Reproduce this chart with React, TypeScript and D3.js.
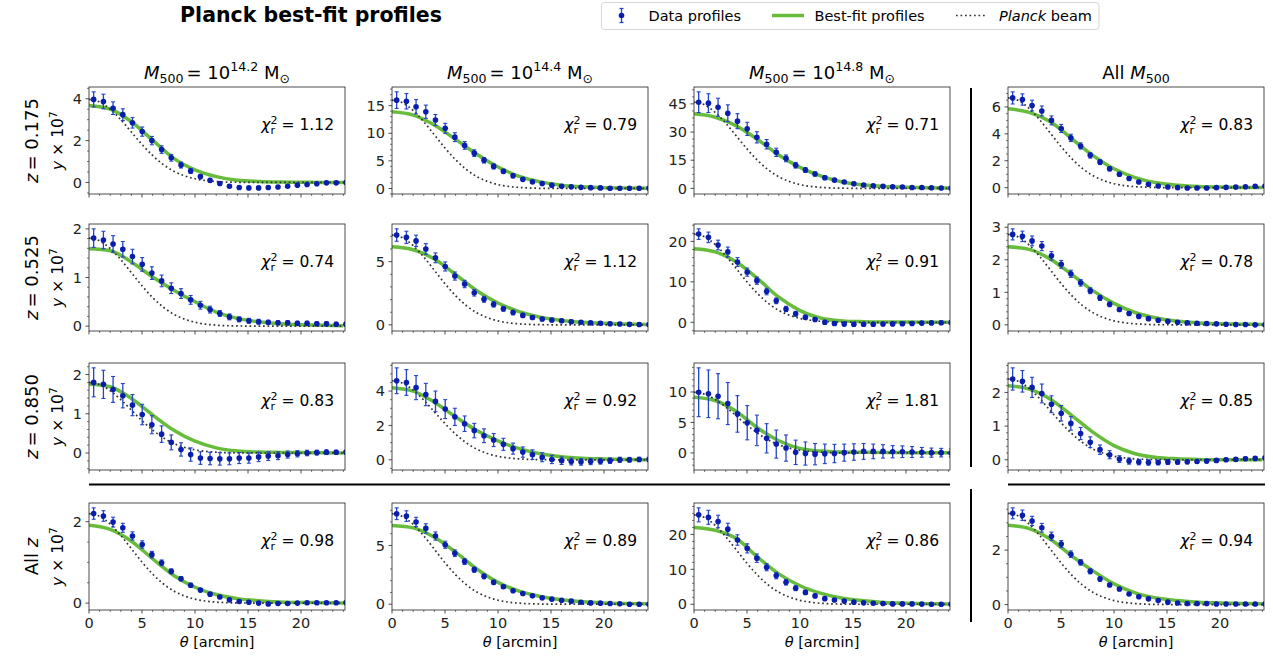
import { useEffect, useRef } from 'react';
import * as d3 from 'd3';

// angular bins of the measured profiles [arcmin]
const thetaData = [0.44, 1.36, 2.27, 3.19, 4.10, 5.02, 5.93, 6.85, 7.76, 8.68, 9.59, 10.51, 11.42, 12.34, 13.25, 14.17, 15.08, 16.00, 16.91, 17.83, 18.74, 19.66, 20.57, 21.49, 22.40, 23.32, 24.23];
// grid on which the best-fit model is tabulated
const thetaFit = [0, 2, 4, 6, 8, 10, 12, 14, 16, 18, 20, 22, 24];
// Planck beam, normalised to the central data value
const thetaBeam = [0, 1, 2, 3, 4, 5, 6, 7, 8, 9, 10, 11, 12, 13, 14, 15, 16, 17, 18, 19, 20, 21, 22, 23, 24];
const beamShape = [1.0, 0.969, 0.882, 0.755, 0.607, 0.458, 0.325, 0.216, 0.135, 0.08, 0.044, 0.023, 0.011, 0.005, 0.002, 0.001, 0, 0, 0, 0, 0, 0, 0, 0, 0];

const rowLabels = ['0.175', '0.525', '0.850', 'All'];
const colLabels = ['14.2', '14.4', '14.8', 'All'];

const chi2 = [
  ['1.12', '0.79', '0.71', '0.83'],
  ['0.74', '1.12', '0.91', '0.78'],
  ['0.83', '0.92', '1.81', '0.85'],
  ['0.98', '0.89', '0.86', '0.94'],
];

const yTicks = [
  [[0, 2, 4], [0, 5, 10, 15], [0, 15, 30, 45], [0, 2, 4, 6]],
  [[0, 1, 2], [0, 5], [0, 10, 20], [0, 1, 2, 3]],
  [[0, 1, 2], [0, 2, 4], [0, 5, 10], [0, 1, 2]],
  [[0, 2], [0, 5], [0, 10, 20], [0, 2]],
];
const xTicks = [0, 5, 10, 15, 20];

// z = 0.175
const y11 = [3.97, 3.87, 3.55, 3.24, 2.85, 2.43, 2.0, 1.57, 1.18, 0.83, 0.55, 0.28, 0.1, -0.05, -0.18, -0.24, -0.26, -0.26, -0.24, -0.22, -0.18, -0.13, -0.1, -0.06, -0.02, -0.02, 0.0];
const e11 = [0.36, 0.35, 0.3, 0.28, 0.25, 0.22, 0.2, 0.18, 0.16, 0.14, 0.12, 0.1, 0.09, 0.08, 0.07, 0.07, 0.06, 0.06, 0.06, 0.05, 0.05, 0.05, 0.05, 0.04, 0.04, 0.04, 0.04];
const f11 = [3.68, 3.51, 2.9, 2.02, 1.15, 0.6, 0.28, 0.11, 0.05, 0.02, 0.01, 0.0, 0.0];

const y12 = [16.0, 15.8, 14.8, 13.9, 12.4, 10.9, 9.3, 7.8, 6.4, 5.1, 4.0, 3.1, 2.3, 1.65, 1.2, 0.9, 0.6, 0.4, 0.3, 0.2, 0.15, 0.1, 0.05, 0.05, 0.05, 0.05, 0.05];
const e12 = [1.5, 1.4, 1.3, 1.2, 1.0, 0.9, 0.8, 0.7, 0.6, 0.5, 0.45, 0.4, 0.35, 0.3, 0.28, 0.26, 0.24, 0.22, 0.2, 0.2, 0.19, 0.18, 0.17, 0.16, 0.16, 0.15, 0.15];
const f12 = [13.9, 13.3, 11.5, 8.9, 6.2, 3.9, 2.2, 1.2, 0.6, 0.3, 0.15, 0.07, 0.03];

const y13 = [45.9, 45.4, 43.2, 40.0, 35.8, 31.7, 27.2, 23.5, 19.2, 16.0, 12.3, 9.8, 7.7, 5.7, 4.4, 3.4, 2.5, 1.8, 1.4, 1.1, 0.9, 0.7, 0.5, 0.5, 0.35, 0.2, 0.1];
const e13 = [5.5, 5.0, 4.8, 4.5, 4.0, 3.5, 3.0, 2.5, 2.2, 1.8, 1.5, 1.3, 1.1, 1.0, 0.9, 0.8, 0.75, 0.7, 0.65, 0.6, 0.6, 0.55, 0.55, 0.5, 0.5, 0.5, 0.5];
const f13 = [39.7, 37.9, 33.3, 26.0, 17.8, 11.2, 6.5, 3.4, 1.8, 1.0, 0.6, 0.3, 0.2];

const y14 = [6.67, 6.55, 6.1, 5.7, 5.0, 4.4, 3.7, 3.1, 2.4, 1.9, 1.4, 1.0, 0.68, 0.42, 0.25, 0.12, 0.05, 0.0, -0.02, -0.03, -0.02, 0.0, 0.02, 0.04, 0.07, 0.1, 0.1];
const e14 = [0.45, 0.42, 0.4, 0.37, 0.33, 0.3, 0.27, 0.23, 0.2, 0.18, 0.16, 0.14, 0.12, 0.11, 0.1, 0.09, 0.09, 0.08, 0.08, 0.08, 0.07, 0.07, 0.07, 0.07, 0.06, 0.06, 0.06];
const f14 = [5.87, 5.6, 4.9, 3.65, 2.4, 1.4, 0.75, 0.37, 0.18, 0.08, 0.04, 0.02, 0.01];

// z = 0.525
const y21 = [1.81, 1.77, 1.69, 1.58, 1.43, 1.27, 1.09, 0.93, 0.78, 0.67, 0.54, 0.43, 0.34, 0.26, 0.19, 0.14, 0.11, 0.09, 0.08, 0.07, 0.07, 0.06, 0.06, 0.05, 0.05, 0.04, 0.04];
const e21 = [0.19, 0.18, 0.17, 0.16, 0.15, 0.14, 0.13, 0.12, 0.11, 0.1, 0.09, 0.08, 0.07, 0.06, 0.06, 0.05, 0.05, 0.05, 0.04, 0.04, 0.04, 0.04, 0.04, 0.04, 0.04, 0.04, 0.04];
const f21 = [1.59, 1.55, 1.32, 1.01, 0.74, 0.5, 0.29, 0.16, 0.09, 0.05, 0.03, 0.02, 0.01];

const y22 = [7.1, 6.92, 6.64, 6.0, 5.3, 4.62, 3.86, 3.23, 2.54, 2.02, 1.62, 1.27, 0.98, 0.75, 0.58, 0.46, 0.38, 0.32, 0.25, 0.21, 0.16, 0.13, 0.09, 0.07, 0.04, 0.03, 0.02];
const e22 = [0.49, 0.48, 0.45, 0.42, 0.39, 0.36, 0.32, 0.29, 0.26, 0.23, 0.21, 0.19, 0.18, 0.16, 0.15, 0.14, 0.14, 0.13, 0.13, 0.12, 0.12, 0.12, 0.12, 0.12, 0.12, 0.12, 0.12];
const f22 = [6.17, 5.94, 5.2, 3.98, 2.7, 1.73, 1.04, 0.6, 0.35, 0.2, 0.12, 0.07, 0.03];

const y23 = [21.8, 21.0, 19.1, 17.4, 14.9, 12.4, 10.3, 7.6, 5.3, 3.3, 2.1, 1.25, 0.7, 0.0, -0.3, -0.45, -0.5, -0.5, -0.5, -0.45, -0.4, -0.35, -0.3, -0.2, -0.15, -0.1, -0.05];
const e23 = [1.3, 1.3, 1.2, 1.2, 1.1, 1.0, 0.9, 0.8, 0.7, 0.65, 0.6, 0.55, 0.5, 0.5, 0.45, 0.45, 0.45, 0.4, 0.4, 0.4, 0.4, 0.4, 0.4, 0.4, 0.4, 0.4, 0.4];
const f23 = [18.2, 17.4, 14.9, 10.8, 6.2, 2.9, 1.0, 0.35, 0.15, 0.08, 0.05, 0.03, 0.02];

const y24 = [2.78, 2.72, 2.58, 2.42, 2.12, 1.86, 1.57, 1.29, 1.05, 0.83, 0.63, 0.47, 0.35, 0.26, 0.19, 0.14, 0.11, 0.08, 0.06, 0.05, 0.04, 0.03, 0.02, 0.01, 0.01, 0.0, 0.0];
const e24 = [0.17, 0.16, 0.15, 0.14, 0.13, 0.12, 0.11, 0.1, 0.09, 0.08, 0.07, 0.06, 0.06, 0.05, 0.05, 0.05, 0.05, 0.04, 0.04, 0.04, 0.04, 0.04, 0.04, 0.04, 0.04, 0.04, 0.04];
const f24 = [2.4, 2.32, 2.02, 1.55, 1.05, 0.66, 0.38, 0.21, 0.11, 0.06, 0.03, 0.02, 0.01];

// z = 0.850
const y31 = [1.8, 1.75, 1.62, 1.46, 1.22, 0.98, 0.72, 0.48, 0.27, 0.09, -0.04, -0.13, -0.14, -0.15, -0.15, -0.13, -0.13, -0.1, -0.08, -0.07, -0.04, -0.02, 0.0, 0.01, 0.02, 0.02, 0.02];
const e31 = [0.37, 0.36, 0.33, 0.31, 0.27, 0.26, 0.23, 0.21, 0.19, 0.17, 0.17, 0.16, 0.16, 0.16, 0.15, 0.14, 0.13, 0.12, 0.11, 0.1, 0.09, 0.08, 0.07, 0.06, 0.06, 0.05, 0.05];
const f31 = [1.76, 1.69, 1.39, 0.97, 0.58, 0.3, 0.13, 0.05, 0.025, 0.015, 0.01, 0.005, 0.0];

const y32 = [4.6, 4.5, 4.2, 3.8, 3.4, 2.95, 2.5, 2.1, 1.7, 1.4, 1.15, 0.9, 0.65, 0.45, 0.3, 0.15, 0.02, -0.05, -0.1, -0.12, -0.1, -0.08, -0.05, 0.0, 0.0, 0.02, 0.02];
const e32 = [0.75, 0.75, 0.7, 0.65, 0.6, 0.55, 0.5, 0.45, 0.42, 0.4, 0.38, 0.35, 0.32, 0.3, 0.28, 0.26, 0.24, 0.22, 0.2, 0.19, 0.18, 0.17, 0.16, 0.15, 0.14, 0.13, 0.13];
const f32 = [4.2, 4.0, 3.35, 2.5, 1.7, 1.1, 0.65, 0.35, 0.18, 0.09, 0.05, 0.02, 0.01];

const y33 = [9.95, 9.7, 9.3, 8.1, 6.4, 4.95, 3.7, 2.4, 1.45, 0.8, 0.1, -0.1, -0.2, -0.15, -0.1, 0.05, 0.15, 0.25, 0.25, 0.25, 0.2, 0.2, 0.15, 0.1, 0.05, 0.05, 0.0];
const e33 = [4.0, 3.9, 3.7, 3.45, 3.0, 2.8, 2.5, 2.4, 2.3, 2.15, 2.0, 1.9, 1.75, 1.6, 1.5, 1.4, 1.35, 1.3, 1.2, 1.1, 1.0, 0.95, 0.9, 0.8, 0.75, 0.7, 0.65];
const f33 = [9.15, 8.6, 6.8, 4.1, 2.0, 0.75, 0.3, 0.15, 0.1, 0.07, 0.05, 0.03, 0.02];

const y34 = [2.4, 2.33, 2.15, 1.97, 1.65, 1.38, 1.08, 0.78, 0.52, 0.3, 0.15, 0.02, -0.04, -0.07, -0.08, -0.08, -0.07, -0.07, -0.06, -0.05, -0.04, -0.02, 0.0, 0.01, 0.03, 0.04, 0.05];
const e34 = [0.33, 0.32, 0.3, 0.28, 0.25, 0.23, 0.2, 0.18, 0.16, 0.14, 0.12, 0.1, 0.09, 0.08, 0.08, 0.07, 0.07, 0.06, 0.06, 0.06, 0.05, 0.05, 0.05, 0.05, 0.05, 0.05, 0.05];
const f34 = [2.2, 2.1, 1.8, 1.32, 0.82, 0.42, 0.18, 0.07, 0.03, 0.01, 0.0, 0.0, 0.0];

// all z
const y41 = [2.2, 2.14, 1.99, 1.85, 1.65, 1.44, 1.19, 0.99, 0.78, 0.6, 0.44, 0.32, 0.22, 0.15, 0.08, 0.04, 0.02, 0.0, -0.02, -0.01, -0.01, 0.0, 0.01, 0.01, 0.01, 0.01, 0.01];
const e41 = [0.14, 0.13, 0.12, 0.11, 0.1, 0.09, 0.08, 0.07, 0.06, 0.05, 0.05, 0.04, 0.04, 0.04, 0.03, 0.03, 0.03, 0.03, 0.03, 0.03, 0.03, 0.03, 0.03, 0.03, 0.03, 0.03, 0.03];
const f41 = [1.91, 1.81, 1.52, 1.09, 0.68, 0.39, 0.21, 0.11, 0.06, 0.03, 0.015, 0.01, 0.0];

const y42 = [7.7, 7.5, 7.0, 6.45, 5.8, 5.06, 4.34, 3.63, 2.94, 2.37, 1.86, 1.49, 1.14, 0.91, 0.71, 0.54, 0.43, 0.34, 0.26, 0.17, 0.11, 0.09, 0.06, 0.03, 0.0, 0.0, 0.0];
const e42 = [0.5, 0.45, 0.4, 0.4, 0.35, 0.3, 0.28, 0.25, 0.22, 0.2, 0.18, 0.15, 0.13, 0.12, 0.1, 0.1, 0.1, 0.09, 0.09, 0.09, 0.08, 0.08, 0.08, 0.08, 0.08, 0.08, 0.08];
const f42 = [6.7, 6.5, 5.7, 4.43, 3.0, 1.86, 1.11, 0.66, 0.37, 0.2, 0.11, 0.06, 0.03];

const y43 = [25.6, 24.9, 23.7, 21.5, 18.4, 16.0, 13.2, 10.6, 8.2, 6.3, 4.6, 3.4, 2.4, 1.6, 1.2, 0.9, 0.6, 0.4, 0.3, 0.2, 0.1, 0.1, 0.1, 0.05, 0.0, 0.0, 0.0];
const e43 = [2.0, 2.0, 1.8, 1.7, 1.5, 1.3, 1.2, 1.0, 0.9, 0.8, 0.7, 0.6, 0.5, 0.45, 0.4, 0.35, 0.3, 0.3, 0.3, 0.3, 0.25, 0.25, 0.25, 0.25, 0.25, 0.25, 0.25];
const f43 = [22.0, 21.2, 18.8, 13.5, 8.7, 5.3, 3.1, 1.7, 1.0, 0.5, 0.3, 0.15, 0.1];

const y44 = [3.35, 3.28, 3.07, 2.82, 2.51, 2.22, 1.85, 1.55, 1.22, 0.94, 0.72, 0.57, 0.39, 0.29, 0.21, 0.15, 0.09, 0.06, 0.04, 0.04, 0.04, 0.02, 0.02, 0.02, 0.02, 0.02, 0.02];
const e44 = [0.2, 0.19, 0.17, 0.16, 0.15, 0.13, 0.12, 0.1, 0.09, 0.08, 0.07, 0.06, 0.05, 0.05, 0.05, 0.04, 0.04, 0.04, 0.04, 0.04, 0.04, 0.04, 0.04, 0.04, 0.04, 0.04, 0.04];
const f44 = [2.91, 2.79, 2.4, 1.79, 1.24, 0.76, 0.43, 0.24, 0.15, 0.09, 0.06, 0.04, 0.03];

const panels = [
  [{ y: y11, e: e11, f: f11 }, { y: y12, e: e12, f: f12 }, { y: y13, e: e13, f: f13 }, { y: y14, e: e14, f: f14 }],
  [{ y: y21, e: e21, f: f21 }, { y: y22, e: e22, f: f22 }, { y: y23, e: e23, f: f23 }, { y: y24, e: e24, f: f24 }],
  [{ y: y31, e: e31, f: f31 }, { y: y32, e: e32, f: f32 }, { y: y33, e: e33, f: f33 }, { y: y34, e: e34, f: f34 }],
  [{ y: y41, e: e41, f: f41 }, { y: y42, e: e42, f: f42 }, { y: y43, e: e43, f: f43 }, { y: y44, e: e44, f: f44 }],
];

const FONT = "'DejaVu Sans', sans-serif";
const GREEN = '#68bc3c';
const BLUE = '#0a1eae';
const EBLUE = '#2443c8';
const BEAM = '#333';

export default function App() {
  const svgRef = useRef<SVGSVGElement>(null);

  useEffect(() => {
    if (!svgRef.current) return;
    const svg = d3.select(svgRef.current);
    svg.selectAll('*').remove();
    svg.attr('font-family', FONT);

    const colX = [89, 392, 694, 1008];
    const rowY = [87, 224, 363, 503];
    const panelW = 256;
    const panelH = 107;
    const xMax = 24.15;

    // title
    svg.append('text')
      .attr('x', 311).attr('y', 22)
      .attr('text-anchor', 'middle')
      .attr('font-size', 20.5).attr('font-weight', 'bold')
      .text('Planck best-fit profiles');

    // legend
    const lg = svg.append('g');
    const ly = 15.5;
    lg.append('rect').attr('x', 601.5).attr('y', 2.5).attr('width', 497.5).attr('height', 27)
      .attr('rx', 3).attr('fill', '#fff').attr('stroke', '#d6d6d6');
    lg.append('line').attr('x1', 621.5).attr('x2', 621.5).attr('y1', ly - 7).attr('y2', ly + 7)
      .attr('stroke', EBLUE).attr('stroke-width', 1.3);
    [ly - 7, ly + 7].forEach(cy => lg.append('line').attr('x1', 619.5).attr('x2', 623.5).attr('y1', cy).attr('y2', cy)
      .attr('stroke', EBLUE).attr('stroke-width', 1.3));
    lg.append('circle').attr('cx', 621.5).attr('cy', ly).attr('r', 2.8).attr('fill', BLUE);
    lg.append('text').attr('x', 648.5).attr('y', ly + 5.2).attr('font-size', 14.5).text('Data profiles');
    lg.append('line').attr('x1', 772).attr('x2', 804).attr('y1', ly).attr('y2', ly)
      .attr('stroke', GREEN).attr('stroke-width', 3.5);
    lg.append('text').attr('x', 814.5).attr('y', ly + 5.2).attr('font-size', 14.5).text('Best-fit profiles');
    lg.append('line').attr('x1', 956).attr('x2', 986).attr('y1', ly).attr('y2', ly)
      .attr('stroke', BEAM).attr('stroke-width', 1.7).attr('stroke-dasharray', '1.7 2.8');
    const lt = lg.append('text').attr('x', 999).attr('y', ly + 5.2).attr('font-size', 14.5);
    lt.append('tspan').attr('font-style', 'italic').text('Planck');
    lt.append('tspan').text(' beam');

    // column titles
    colLabels.forEach((lab, c) => {
      const t = svg.append('text')
        .attr('x', colX[c] + panelW / 2).attr('y', rowY[0] - 8)
        .attr('text-anchor', 'middle').attr('font-size', 18);
      if (lab === 'All') {
        t.append('tspan').text('All ');
        t.append('tspan').attr('font-style', 'italic').text('M');
        t.append('tspan').attr('font-size', 12.6).attr('dy', 4).text('500');
      } else {
        t.append('tspan').attr('font-style', 'italic').text('M');
        t.append('tspan').attr('font-size', 12.6).attr('dy', 4).text('500');
        t.append('tspan').attr('dy', -4).attr('dx', 3).text('= 10');
        t.append('tspan').attr('font-size', 12.6).attr('dy', -8).text(lab);
        t.append('tspan').attr('dy', 8).text(' M');
        t.append('tspan').attr('font-size', 12.6).attr('dy', 4).text('\u2299');
      }
    });

    // row labels
    rowLabels.forEach((lab, r) => {
      const cy = rowY[r] + panelH / 2;
      const t = svg.append('text')
        .attr('transform', `translate(38,${cy}) rotate(-90)`)
        .attr('text-anchor', 'middle').attr('font-size', 18);
      if (lab === 'All') {
        t.append('tspan').text('All ');
        t.append('tspan').attr('font-style', 'italic').text('z');
      } else {
        t.append('tspan').attr('font-style', 'italic').text('z');
        t.append('tspan').attr('dx', 3).text(`= ${lab}`);
      }
    });

    const fitLine = d3.line<number>().curve(d3.curveMonotoneX);
    const minorStep = (step: number) => {
      const mant = step / Math.pow(10, Math.floor(Math.log10(step)));
      return step / (Math.abs(mant - 1) < 1e-9 || Math.abs(mant - 5) < 1e-9 ? 5 : 4);
    };

    panels.forEach((row, r) => row.forEach((p, c) => {
      const g = svg.append('g').attr('transform', `translate(${colX[c]},${rowY[r]})`);
      const x = d3.scaleLinear().domain([0, xMax]).range([0, panelW]);
      const beam = beamShape.map(b => b * p.y[0]);
      const lo = d3.min([...p.y.map((v, i) => v - p.e[i]), ...p.f, ...beam]) as number;
      const hi = d3.max([...p.y.map((v, i) => v + p.e[i]), ...p.f, ...beam]) as number;
      const pad = (hi - lo) * 0.05;
      const y = d3.scaleLinear().domain([lo - pad, hi + pad]).range([panelH, 0]);

      const clipId = `clip-${r}-${c}`;
      g.append('clipPath').attr('id', clipId)
        .append('rect').attr('width', panelW).attr('height', panelH);
      const plot = g.append('g').attr('clip-path', `url(#${clipId})`);

      // best fit
      fitLine.x((_, i) => x(thetaFit[i])).y(d => y(d));
      plot.append('path').attr('d', fitLine(p.f))
        .attr('fill', 'none').attr('stroke', GREEN).attr('stroke-width', 3.5);

      // beam
      fitLine.x((_, i) => x(thetaBeam[i])).y(d => y(d));
      plot.append('path').attr('d', fitLine(beam))
        .attr('fill', 'none').attr('stroke', BEAM).attr('stroke-width', 1.7)
        .attr('stroke-dasharray', '1.7 2.8');

      // data with error bars
      const pts = plot.append('g');
      p.y.forEach((v, i) => {
        const px = x(thetaData[i]);
        const y0 = y(v - p.e[i]);
        const y1 = y(v + p.e[i]);
        pts.append('line').attr('x1', px).attr('x2', px).attr('y1', y0).attr('y2', y1)
          .attr('stroke', EBLUE).attr('stroke-width', 1.3);
        [y0, y1].forEach(cy => pts.append('line').attr('x1', px - 2).attr('x2', px + 2)
          .attr('y1', cy).attr('y2', cy).attr('stroke', EBLUE).attr('stroke-width', 1.1));
        pts.append('circle').attr('cx', px).attr('cy', y(v)).attr('r', 2.8).attr('fill', BLUE);
      });

      // frame
      g.append('rect').attr('width', panelW).attr('height', panelH)
        .attr('fill', 'none').attr('stroke', '#222').attr('stroke-width', 0.8);

      // x ticks
      const xMinor = d3.range(0, xMax + 1e-9, 1).filter(t => t % 5 !== 0);
      xMinor.forEach(t => g.append('line').attr('x1', x(t)).attr('x2', x(t))
        .attr('y1', panelH).attr('y2', panelH + 2).attr('stroke', '#222').attr('stroke-width', 0.6));
      xTicks.forEach(t => {
        g.append('line').attr('x1', x(t)).attr('x2', x(t))
          .attr('y1', panelH).attr('y2', panelH + 3.5).attr('stroke', '#222').attr('stroke-width', 0.8);
        if (r === 3) {
          g.append('text').attr('x', x(t)).attr('y', panelH + 17.5)
            .attr('text-anchor', 'middle').attr('font-size', 14.5).attr('fill', '#222').text(t);
        }
      });
      if (r === 3) {
        const xl = g.append('text').attr('x', panelW / 2).attr('y', panelH + 37)
          .attr('text-anchor', 'middle').attr('font-size', 14.5);
        xl.append('tspan').attr('font-style', 'italic').text('\u03b8');
        xl.append('tspan').text(' [arcmin]');
      }

      // y ticks
      const ticks = yTicks[r][c];
      const step = ticks[1] - ticks[0];
      const ms = minorStep(step);
      const [d0, d1] = y.domain();
      d3.range(Math.ceil(d0 / ms), Math.floor(d1 / ms) + 1).map(k => k * ms)
        .filter(t => Math.abs(t / step - Math.round(t / step)) > 1e-6)
        .forEach(t => g.append('line').attr('x1', -2).attr('x2', 0).attr('y1', y(t)).attr('y2', y(t))
          .attr('stroke', '#222').attr('stroke-width', 0.6));
      ticks.forEach(t => {
        g.append('line').attr('x1', -3.5).attr('x2', 0).attr('y1', y(t)).attr('y2', y(t))
          .attr('stroke', '#222').attr('stroke-width', 0.8);
        g.append('text').attr('x', -7).attr('y', y(t)).attr('dy', '0.36em')
          .attr('text-anchor', 'end').attr('font-size', 14.5).attr('fill', '#222').text(t);
      });

      if (c === 0) {
        const yl = g.append('text')
          .attr('transform', `translate(-26,${panelH / 2}) rotate(-90)`)
          .attr('text-anchor', 'middle').attr('font-size', 15.5);
        yl.append('tspan').attr('font-style', 'italic').text('y');
        yl.append('tspan').text(' \u00d7 10');
        yl.append('tspan').attr('font-size', 11).attr('dy', -6.5).text('7');
      }

      // reduced chi-square
      const ct = g.append('text').attr('x', panelW - 11).attr('y', 43)
        .attr('text-anchor', 'end').attr('font-size', 15.5);
      ct.append('tspan').attr('font-style', 'italic').text('\u03c7');
      ct.append('tspan').attr('font-size', 11).attr('dy', -6.5).text('2');
      ct.append('tspan').attr('font-size', 11).attr('dx', -7).attr('dy', 10.5).text('r');
      ct.append('tspan').attr('dx', 6.5).attr('dy', -4).text(`= ${chi2[r][c]}`);
    }));

    // separators between the single bins and the stacked ("All") panels
    const sep = svg.append('g').attr('stroke', '#000').attr('stroke-width', 2);
    sep.append('line').attr('x1', 89).attr('x2', 950).attr('y1', 484.5).attr('y2', 484.5);
    sep.append('line').attr('x1', 1008).attr('x2', 1265).attr('y1', 484.5).attr('y2', 484.5);
    sep.append('line').attr('x1', 971).attr('x2', 971).attr('y1', 88).attr('y2', 467);
    sep.append('line').attr('x1', 971).attr('x2', 971).attr('y1', 489).attr('y2', 622);
  }, []);

  return (
    <svg
      ref={svgRef}
      width={1273}
      height={663}
      style={{ position: 'absolute', left: 0, top: 0, background: '#fff' }}
    />
  );
}
